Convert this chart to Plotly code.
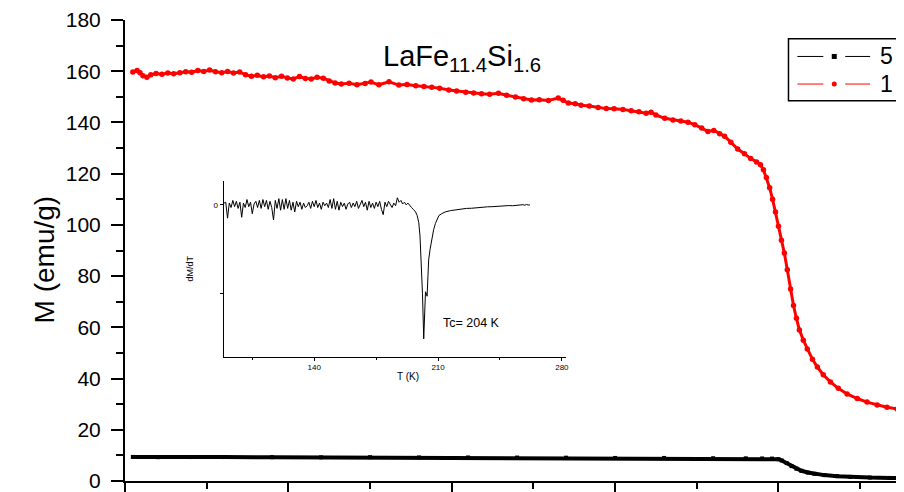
import plotly.graph_objects as go

# ---------------- main data ----------------
red_T = [2.4, 3.7, 4.6, 5.5, 6.7, 7.9, 9.5, 11.3, 13.1, 14.9, 16.8, 18.6, 20.4, 22.3, 24.1,
         25.9, 27.7, 29.6, 31.4, 33.2, 35.1, 36.9, 38.7, 40.5, 42.4, 44.2, 46.0, 47.9, 49.7,
         51.5, 53.4, 55.2, 57.0, 58.8, 60.7, 62.5, 64.3, 66.2, 68.6, 71.0, 73.5, 75.3, 77.7,
         80.8, 83.8, 86.3, 89.0, 91.5, 93.9, 96.3, 99.1, 101.5, 104.3, 106.7, 109.1, 111.6,
         114.3, 116.8, 119.5, 122.0, 124.4, 126.8, 129.6, 132.6, 134.1, 135.7, 137.8, 139.6,
         142.1, 144.8, 147.3, 149.7, 152.4, 154.9, 157.3, 159.5, 161.0, 162.5, 165.2, 167.7,
         170.1, 172.3, 174.4, 176.5, 178.4, 180.2, 182.0, 183.5, 185.4, 187.5, 189.6, 191.5,
         193.3, 194.5, 195.4, 196.3, 197.3, 198.2, 199.1, 200.0, 200.9, 201.8, 202.7, 203.7,
         204.6, 205.5, 206.4, 207.6, 208.8, 210.4, 211.9, 213.7, 215.9, 218.3, 221.0, 224.1,
         227.1, 230.2, 233.2, 236.3, 239.3]
red_M = [159.7, 160.3, 159.4, 158.2, 157.6, 158.6, 159.1, 158.8, 159.3, 159.0, 159.4, 159.8,
         159.6, 160.3, 159.9, 160.5, 159.8, 159.4, 159.9, 159.3, 159.7, 158.6, 158.0, 158.4,
         157.8, 158.1, 157.5, 158.0, 157.4, 157.0, 157.9, 157.2, 157.0, 157.6, 157.3, 156.2,
         155.4, 155.0, 155.3, 154.7, 155.2, 155.8, 154.7, 155.9, 154.6, 154.8, 154.3, 154.0,
         153.7, 153.4, 152.7, 152.3, 151.8, 151.5, 151.2, 151.0, 151.4, 150.6, 149.9, 149.3,
         148.8, 148.9, 148.6, 149.5, 148.7, 147.6, 147.3, 146.7, 146.4, 145.8, 145.4, 145.3,
         145.1, 144.6, 144.2, 143.6, 144.0, 142.9, 141.6, 141.0, 140.6, 140.1, 139.1, 137.8,
         136.5, 136.9, 135.6, 134.6, 132.3, 129.6, 127.8, 125.9, 124.6, 123.5, 121.5, 118.5,
         114.5, 110.0, 105.0, 99.5, 94.0, 89.0, 82.5, 75.0, 68.5, 63.5, 59.0, 55.0, 51.5,
         47.5, 44.5, 41.5, 38.7, 36.2, 34.0, 32.2, 30.8, 29.7, 28.8, 28.1, 27.5]

black_T = [2.4, 10, 20, 30, 45, 60, 75, 90, 105, 120, 135, 150, 165, 180, 190, 195, 198,
           200, 201, 202.5, 204, 205.5, 207, 209, 211, 214, 218, 222, 228, 234, 239]
black_M = [9.4, 9.3, 9.35, 9.35, 9.3, 9.25, 9.3, 9.2, 9.2, 9.15, 9.1, 9.0, 9.0, 8.9, 8.85,
           8.8, 8.75, 8.5, 8.0, 7.0, 5.8, 4.8, 4.0, 3.3, 2.8, 2.3, 1.9, 1.6, 1.35, 1.2, 1.1]

series_names = ["5", "1"]

# ---------------- inset data: dM/dT (arbitrary units) ----------------
inset_T = list(range(89, 197)) + [197.3, 198.2, 199.1, 199.8, 200.6, 201.2, 201.9, 202.4,
          202.9, 203.4, 203.8, 204.3, 204.7, 205.5, 206.1, 206.6, 207.5, 208.5, 209.5, 210.5,
          212, 214, 217, 220, 223, 226, 229, 232, 235, 238, 241, 244, 247, 250, 252, 254, 256,
          258, 259, 260, 261, 262]
inset_dMdT = [0.02, 0.03, -0.15, 0.02, -0.03, 0.05, -0.02, 0.04, -0.04, 0.03,
              -0.14, 0.02, -0.03, 0.06, -0.02, 0.03, -0.10, 0.01, 0.04, -0.03,
              0.05, -0.04, 0.06, -0.02, 0.05, -0.05, 0.04, -0.03, -0.17, 0.05,
              -0.04, 0.07, -0.06, 0.06, -0.05, 0.07, -0.04, 0.05, -0.06, 0.03,
              -0.08, 0.04, -0.02, 0.03, -0.05, 0.02, -0.03, -0.01, 0.03, -0.04,
              0.04, -0.02, 0.05, -0.03, 0.02, -0.05, 0.03, -0.01, 0.02, -0.03,
              0.06, -0.04, 0.07, -0.05, 0.04, -0.06, 0.03, -0.02, 0.02, -0.05,
              0.01, 0.03, -0.03, 0.02, -0.02, 0.04, -0.04, 0.01, 0.05, -0.02,
              0.03, -0.06, 0.04, -0.03, 0.02, -0.04, 0.03, -0.02, 0.04, -0.05,
              -0.11, 0.03, -0.02, 0.04, 0.01, -0.03, 0.02, -0.01, 0.08, 0.03,
              0.05, 0.01, 0.03, 0.00, 0.02, -0.01, -0.03, -0.05,
              -0.08, -0.12, -0.20, -0.35, -0.64, -1.00, -1.51, -1.20,
              -0.98, -1.00, -1.03, -0.80, -0.62, -0.50, -0.42, -0.36, -0.28, -0.21, -0.16, -0.12,
              -0.10, -0.08, -0.065, -0.055, -0.05, -0.04, -0.038, -0.03, -0.028, -0.022, -0.02,
              -0.015, -0.012, -0.008, -0.01, -0.004, -0.006, 0.002, -0.004, 0.004, -0.002, 0.0]

y_ticks = [0, 20, 40, 60, 80, 100, 120, 140, 160, 180]
inset_x_ticks = [140, 210, 280]

FONT = "Liberation Sans, Arial, sans-serif"

fig = go.Figure()
fig.add_trace(go.Scatter(x=black_T, y=black_M, mode="lines+markers", name=series_names[0],
                         showlegend=False,
                         line=dict(color="black", width=4),
                         marker=dict(symbol="square", size=4, color="black")))
fig.add_trace(go.Scatter(x=red_T, y=red_M, mode="lines+markers", name=series_names[1],
                         showlegend=False,
                         line=dict(color="#ff0000", width=3),
                         marker=dict(symbol="circle", size=5.5, color="#ff0000")))
fig.add_trace(go.Scatter(x=inset_T, y=inset_dMdT, mode="lines", showlegend=False,
                         line=dict(color="black", width=1), xaxis="x2", yaxis="y2"))

# ---- legend box drawn as decoration (it is cut by the right edge in the reference) ----
shapes = [dict(type="rect", xref="paper", yref="paper", x0=0.855, x1=1.08,
               y0=0.8248, y1=0.9594, line=dict(color="black", width=1.5),
               fillcolor="white", layer="above")]
legend_rows = [(0.9209, "black", "square"), (0.8611, "#ff0000", "circle")]
for yy, col, sym in legend_rows:
    for xa, xb in [(0.8665, 0.8999), (0.9281, 0.9602)]:
        shapes.append(dict(type="line", xref="paper", yref="paper", x0=xa, x1=xb,
                           y0=yy, y1=yy, line=dict(color=col, width=1), layer="above"))
    shapes.append(dict(type=("rect" if sym == "square" else "circle"), xref="paper",
                       yref="paper", xsizemode="pixel", ysizemode="pixel",
                       xanchor=0.914, yanchor=yy, x0=-2.5, x1=2.5, y0=-2.5, y1=2.5,
                       fillcolor=col, line=dict(color=col, width=0), layer="above"))

annotations = [
    dict(text="LaFe<sub>11.4</sub>Si<sub>1.6</sub>", xref="paper", yref="paper",
         x=0.434, y=0.962, showarrow=False, font=dict(size=29)),
    dict(text="Tc= 204 K", xref="x2", yref="y2", x=228.7, y=-1.33,
         showarrow=False, font=dict(size=12.5)),
    dict(text="T (K)", xref="x2", yref="paper", x=193, y=0.211,
         showarrow=False, font=dict(size=10)),
    dict(text="M (emu/g)", xref="paper", yref="paper", x=-0.126, y=0.48,
         textangle=-90, showarrow=False, font=dict(size=28)),
]
for (yy, _, _), nm in zip(legend_rows, series_names):
    annotations.append(dict(text=nm, xref="paper", yref="paper", x=0.9705, y=yy,
                            xanchor="left", yanchor="middle", showarrow=False,
                            font=dict(size=23)))

fig.update_layout(
    width=896, height=484,
    margin=dict(l=117, r=0, t=7, b=9),
    plot_bgcolor="white", paper_bgcolor="white",
    font=dict(family=FONT, color="black"),
    showlegend=False,
    xaxis=dict(range=[0, 237.5], showgrid=False, zeroline=False, showline=True,
               linecolor="black", linewidth=2, ticks="outside", ticklen=10, tickwidth=2,
               tickcolor="black", dtick=50, tick0=0, showticklabels=False,
               minor=dict(ticks="outside", ticklen=6, tickwidth=2, tickcolor="black", dtick=25)),
    yaxis=dict(range=[0, 180], showgrid=False, zeroline=False, showline=True,
               linecolor="black", linewidth=2, ticks="outside", ticklen=12, tickwidth=2,
               tickcolor="black", tickvals=y_ticks, tickfont=dict(size=21),
               ticklabelstandoff=6, ticklabeloverflow="allow",
               minor=dict(ticks="outside", ticklen=7, tickwidth=2, tickcolor="black", dtick=10)),
    xaxis2=dict(domain=[0.1271, 0.5687], anchor="y2", range=[88.8, 282.5],
                showgrid=False, zeroline=False, showline=True, linecolor="black", linewidth=1,
                ticks="outside", ticklen=3, tickwidth=1, tickcolor="black",
                tickvals=inset_x_ticks, tickfont=dict(size=8),
                minor=dict(ticks="outside", ticklen=2, tickwidth=1, tickcolor="black",
                           tickvals=[105, 175, 245])),
    yaxis2=dict(domain=[0.2692, 0.6517], anchor="x2", range=[-1.714, 0.274],
                showgrid=False, zeroline=False, showline=True, linecolor="black", linewidth=1,
                ticks="outside", ticklen=3, tickwidth=1, tickcolor="black",
                tickvals=[0, -1], ticktext=["0", ""], tickfont=dict(size=8),
                title=dict(text="dM/dT", font=dict(size=9), standoff=18)),
    shapes=shapes,
    annotations=annotations,
)

fig.write_html("out.html")
